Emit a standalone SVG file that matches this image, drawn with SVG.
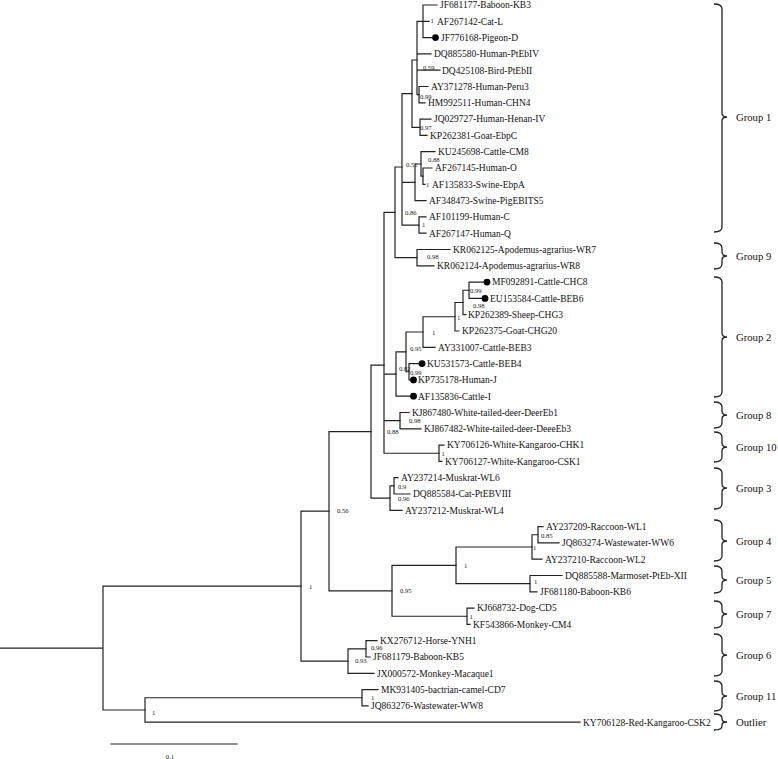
<svg xmlns="http://www.w3.org/2000/svg" width="778" height="759" viewBox="0 0 778 759">
<style>
  .br{fill:none;stroke:#222;stroke-width:1.2;stroke-linecap:square}
  .tip{font-family:"Liberation Serif","Times New Roman",serif;font-size:9.5px;fill:#111}
  .sup{font-family:"Liberation Serif","Times New Roman",serif;font-size:6.7px;fill:#222}
  .grp{font-family:"Liberation Serif","Times New Roman",serif;font-size:10.7px;fill:#111}
  .brace{fill:none;stroke:#222;stroke-width:1.3}
  .dot{fill:#000}
</style>
<rect width="778" height="759" fill="#fff"/>
<g id="connectors" class="br">
  <path d="M423,5V37.6 M423,5H437 M423,21.3H429 M423,37.6H432"/>
  <path d="M417,21.3V94.7 M417,21.3H423 M417,53.9H431 M417,70.2H440 M417,94.7H419"/>
  <path d="M419,86.5V102.8 M419,86.5H428 M419,102.8H425"/>
  <path d="M420,119.1V135.4 M420,119.1H431 M420,135.4H427"/>
  <path d="M412,60V127.3 M412,60H417 M412,127.3H420"/>
  <path d="M423,168V184.3 M423,168H432 M423,184.3H425"/>
  <path d="M421,151.7V176.2 M421,151.7H435 M421,176.2H423"/>
  <path d="M415,164V200.6 M415,164H421 M415,200.6H426"/>
  <path d="M419,216.9V233.2 M419,216.9H426 M419,233.2H426"/>
  <path d="M402,93.6V225.05 M402,93.6H412 M402,182.3H415 M402,225.05H419"/>
  <path d="M417,249.5V265.8 M417,249.5H450 M417,265.8H434"/>
  <path d="M395,167V257.65 M395,167H402 M395,257.65H417"/>
  <path d="M469,282.1V298.4 M469,282.1H483.6 M469,298.4H481.6"/>
  <path d="M463,290.25V314.7 M463,290.25H469 M463,314.7H466"/>
  <path d="M455,302.5V331 M455,302.5H463 M455,331H459"/>
  <path d="M423,316.75V347.3 M423,316.75H455 M423,347.3H435"/>
  <path d="M409,363.6V379.9 M409,363.6H418.6 M409,379.9H410.1"/>
  <path d="M406,332V371.75 M406,332H423 M406,371.75H409"/>
  <path d="M396,351.9V396.2 M396,351.9H406 M396,396.2H410.1"/>
  <path d="M400,412.5V428.8 M400,412.5H409 M400,428.8H421"/>
  <path d="M439,445.1V461.4 M439,445.1H444 M439,461.4H442"/>
  <path d="M384,212.3V453.25 M384,212.3H395 M384,374.05H396 M384,420.65H400 M384,453.25H439"/>
  <path d="M394,477.7V494 M394,477.7H398 M394,494H410"/>
  <path d="M390,485.85V510.3 M390,485.85H394 M390,510.3H402"/>
  <path d="M371,365.1V498.1 M371,365.1H384 M371,498.1H390"/>
  <path d="M538,526.6V542.9 M538,526.6H543 M538,542.9H559"/>
  <path d="M532,534.75V559.2 M532,534.75H538 M532,559.2H542"/>
  <path d="M530,575.5V591.8 M530,575.5H562 M530,591.8H537"/>
  <path d="M456,547V583.65 M456,547H532 M456,583.65H530"/>
  <path d="M467,608.1V624.4 M467,608.1H474 M467,624.4H470"/>
  <path d="M392,565.3V616.25 M392,565.3H456 M392,616.25H467"/>
  <path d="M329,431.6V590.8 M329,431.6H371 M329,590.8H392"/>
  <path d="M366,640.7V657 M366,640.7H377 M366,657H370"/>
  <path d="M348,648.85V673.3 M348,648.85H366 M348,673.3H374"/>
  <path d="M301,511.2V661.1 M301,511.2H329 M301,661.1H348"/>
  <path d="M362,689.6V705.9 M362,689.6H378 M362,705.9H368"/>
  <path d="M145,697.75V722.2 M145,697.75H362 M145,722.2H580"/>
  <path d="M103,586.15V710 M103,586.15H301 M103,710H145 M0,648.1H103"/>
</g>
<g id="support-values" class="sup">
  <text x="430.5" y="23.3">1</text>
  <text x="423" y="69.8">0.59</text>
  <text x="420" y="99.3">0.99</text>
  <text x="420" y="129.8">0.97</text>
  <text x="428" y="162.3">0.88</text>
  <text x="406" y="167.3">0.51</text>
  <text x="426" y="187.3">1</text>
  <text x="405" y="215.3">0.86</text>
  <text x="422" y="227.3">1</text>
  <text x="427" y="259.3">0.98</text>
  <text x="470" y="293.3">0.99</text>
  <text x="473" y="308.3">0.98</text>
  <text x="457" y="320.3">1</text>
  <text x="432" y="335.3">1</text>
  <text x="410" y="351.3">0.95</text>
  <text x="399" y="371.3">0.82</text>
  <text x="410" y="375.3">0.99</text>
  <text x="409" y="423.3">0.98</text>
  <text x="387" y="434.3">0.88</text>
  <text x="441.5" y="456.3">1</text>
  <text x="398" y="489.3">0.9</text>
  <text x="398" y="501.3">0.96</text>
  <text x="337" y="513.3">0.56</text>
  <text x="541" y="538.3">0.85</text>
  <text x="533" y="550.3">1</text>
  <text x="464" y="568.3">1</text>
  <text x="534" y="584.3">1</text>
  <text x="400" y="593.3">0.95</text>
  <text x="469.5" y="619.3">1</text>
  <text x="309" y="589.3">1</text>
  <text x="371" y="650.3">0.96</text>
  <text x="355" y="663.3">0.93</text>
  <text x="371" y="699.6">1</text>
  <text x="152" y="715.3">1</text>
</g>
<g id="tips" class="tip">
  <g id="tip-JF681177"><text x="440" y="8.3">JF681177-Baboon-KB3</text></g>
  <g id="tip-AF267142"><text x="437" y="24.6">AF267142-Cat-L</text></g>
  <g id="tip-JF776168"><circle class="dot" cx="435.5" cy="37.6" r="3.4"/><text x="441" y="40.9">JF776168-Pigeon-D</text></g>
  <g id="tip-DQ885580"><text x="434" y="57.2">DQ885580-Human-PtEbIV</text></g>
  <g id="tip-DQ425108"><text x="442" y="73.5">DQ425108-Bird-PtEbII</text></g>
  <g id="tip-AY371278"><text x="431" y="89.8">AY371278-Human-Peru3</text></g>
  <g id="tip-HM992511"><text x="428" y="106.1">HM992511-Human-CHN4</text></g>
  <g id="tip-JQ029727"><text x="434" y="122.4">JQ029727-Human-Henan-IV</text></g>
  <g id="tip-KP262381"><text x="430" y="138.7">KP262381-Goat-EbpC</text></g>
  <g id="tip-KU245698"><text x="438" y="155">KU245698-Cattle-CM8</text></g>
  <g id="tip-AF267145"><text x="435" y="171.3">AF267145-Human-O</text></g>
  <g id="tip-AF135833"><text x="432" y="187.6">AF135833-Swine-EbpA</text></g>
  <g id="tip-AF348473"><text x="429" y="203.9">AF348473-Swine-PigEBITS5</text></g>
  <g id="tip-AF101199"><text x="429" y="220.2">AF101199-Human-C</text></g>
  <g id="tip-AF267147"><text x="429" y="236.5">AF267147-Human-Q</text></g>
  <g id="tip-KR062125"><text x="453" y="252.8">KR062125-Apodemus-agrarius-WR7</text></g>
  <g id="tip-KR062124"><text x="437" y="269.1">KR062124-Apodemus-agrarius-WR8</text></g>
  <g id="tip-MF092891"><circle class="dot" cx="487" cy="282.1" r="3.4"/><text x="492" y="285.4">MF092891-Cattle-CHC8</text></g>
  <g id="tip-EU153584"><circle class="dot" cx="485" cy="298.4" r="3.4"/><text x="490" y="301.7">EU153584-Cattle-BEB6</text></g>
  <g id="tip-KP262389"><text x="468" y="318">KP262389-Sheep-CHG3</text></g>
  <g id="tip-KP262375"><text x="462" y="334.3">KP262375-Goat-CHG20</text></g>
  <g id="tip-AY331007"><text x="438" y="350.6">AY331007-Cattle-BEB3</text></g>
  <g id="tip-KU531573"><circle class="dot" cx="422" cy="363.6" r="3.4"/><text x="427" y="366.9">KU531573-Cattle-BEB4</text></g>
  <g id="tip-KP735178"><circle class="dot" cx="413.5" cy="379.9" r="3.4"/><text x="418" y="383.2">KP735178-Human-J</text></g>
  <g id="tip-AF135836"><circle class="dot" cx="413.5" cy="396.2" r="3.4"/><text x="418" y="399.5">AF135836-Cattle-I</text></g>
  <g id="tip-KJ867480"><text x="412" y="415.8">KJ867480-White-tailed-deer-DeerEb1</text></g>
  <g id="tip-KJ867482"><text x="424" y="432.1">KJ867482-White-tailed-deer-DeeeEb3</text></g>
  <g id="tip-KY706126"><text x="447" y="448.4">KY706126-White-Kangaroo-CHK1</text></g>
  <g id="tip-KY706127"><text x="445" y="464.7">KY706127-White-Kangaroo-CSK1</text></g>
  <g id="tip-AY237214"><text x="401" y="481">AY237214-Muskrat-WL6</text></g>
  <g id="tip-DQ885584"><text x="413" y="497.3">DQ885584-Cat-PtEBVIII</text></g>
  <g id="tip-AY237212"><text x="405" y="513.6">AY237212-Muskrat-WL4</text></g>
  <g id="tip-AY237209"><text x="546" y="529.9">AY237209-Raccoon-WL1</text></g>
  <g id="tip-JQ863274"><text x="562" y="546.2">JQ863274-Wastewater-WW6</text></g>
  <g id="tip-AY237210"><text x="545" y="562.5">AY237210-Raccoon-WL2</text></g>
  <g id="tip-DQ885588"><text x="565" y="578.8">DQ885588-Marmoset-PtEb-XII</text></g>
  <g id="tip-JF681180"><text x="540" y="595.1">JF681180-Baboon-KB6</text></g>
  <g id="tip-KJ668732"><text x="477" y="611.4">KJ668732-Dog-CD5</text></g>
  <g id="tip-KF543866"><text x="473" y="627.7">KF543866-Monkey-CM4</text></g>
  <g id="tip-KX276712"><text x="380" y="644">KX276712-Horse-YNH1</text></g>
  <g id="tip-JF681179"><text x="373" y="660.3">JF681179-Baboon-KB5</text></g>
  <g id="tip-JX000572"><text x="377" y="676.6">JX000572-Monkey-Macaque1</text></g>
  <g id="tip-MK931405"><text x="381" y="692.9">MK931405-bactrian-camel-CD7</text></g>
  <g id="tip-JQ863276"><text x="371" y="709.2">JQ863276-Wastewater-WW8</text></g>
  <g id="tip-KY706128"><text x="583" y="725.5">KY706128-Red-Kangaroo-CSK2</text></g>
</g>
<g id="groups">
  <g id="group-1"><path class="brace" d="M714,4C719,4 722,5 722,9L722,113C722,116 724,117 727,117C724,117 722,118 722,121L722,227C722,231 719,232 714,232"/><text class="grp" x="736" y="120.6">Group 1</text></g>
  <g id="group-9"><path class="brace" d="M714,243C719,243 722,244 722,248L722,252C722,255 724,256 727,256C724,256 722,257 722,260L722,264C722,268 719,269 714,269"/><text class="grp" x="736" y="259.6">Group 9</text></g>
  <g id="group-2"><path class="brace" d="M714,277C719,277 722,278 722,282L722,333C722,336 724,337 727,337C724,337 722,338 722,341L722,392C722,396 719,397 714,397"/><text class="grp" x="736" y="340.6">Group 2</text></g>
  <g id="group-8"><path class="brace" d="M714,402C719,402 722,403 722,407L722,411C722,414 724,415 727,415C724,415 722,416 722,419L722,423C722,427 719,428 714,428"/><text class="grp" x="736" y="418.6">Group 8</text></g>
  <g id="group-10"><path class="brace" d="M714,432C719,432 722,433 722,437L722,443C722,446 724,447 727,447C724,447 722,448 722,451L722,457C722,461 719,462 714,462"/><text class="grp" x="736" y="450.6">Group 10</text></g>
  <g id="group-3"><path class="brace" d="M714,468C719,468 722,469 722,473L722,484C722,487 724,488 727,488C724,488 722,489 722,492L722,504C722,508 719,509 714,509"/><text class="grp" x="736" y="491.6">Group 3</text></g>
  <g id="group-4"><path class="brace" d="M714,520C719,520 722,521 722,525L722,537C722,540 724,541 727,541C724,541 722,542 722,545L722,556C722,560 719,561 714,561"/><text class="grp" x="736" y="544.6">Group 4</text></g>
  <g id="group-5"><path class="brace" d="M714,566C719,566 722,567 722,571L722,576C722,579 724,580 727,580C724,580 722,581 722,584L722,588C722,592 719,593 714,593"/><text class="grp" x="736" y="583.6">Group 5</text></g>
  <g id="group-7"><path class="brace" d="M714,601C719,601 722,602 722,606L722,610C722,613 724,614 727,614C724,614 722,615 722,618L722,623C722,627 719,628 714,628"/><text class="grp" x="736" y="617.6">Group 7</text></g>
  <g id="group-6"><path class="brace" d="M714,634C719,634 722,635 722,639L722,651C722,654 724,655 727,655C724,655 722,656 722,659L722,671C722,675 719,676 714,676"/><text class="grp" x="736" y="658.6">Group 6</text></g>
  <g id="group-11"><path class="brace" d="M714,681C719,681 722,682 722,686L722,692C722,695 724,696 727,696C724,696 722,697 722,700L722,706C722,710 719,711 714,711"/><text class="grp" x="736" y="699.6">Group 11</text></g>
  <g id="outlier"><path class="brace" d="M714,714C718,714 722,715 722,718L722,719C722,721 724,722 727,722C724,722 722,723 722,725L722,726C722,729 718,730 714,730"/><text class="grp" x="736" y="725.6">Outlier</text></g>
</g>
<g id="scale-bar">
  <path class="br" d="M111,744H237"/>
  <text class="sup" x="170" y="759" font-size="7.5" text-anchor="middle">0.1</text>
</g>
</svg>
